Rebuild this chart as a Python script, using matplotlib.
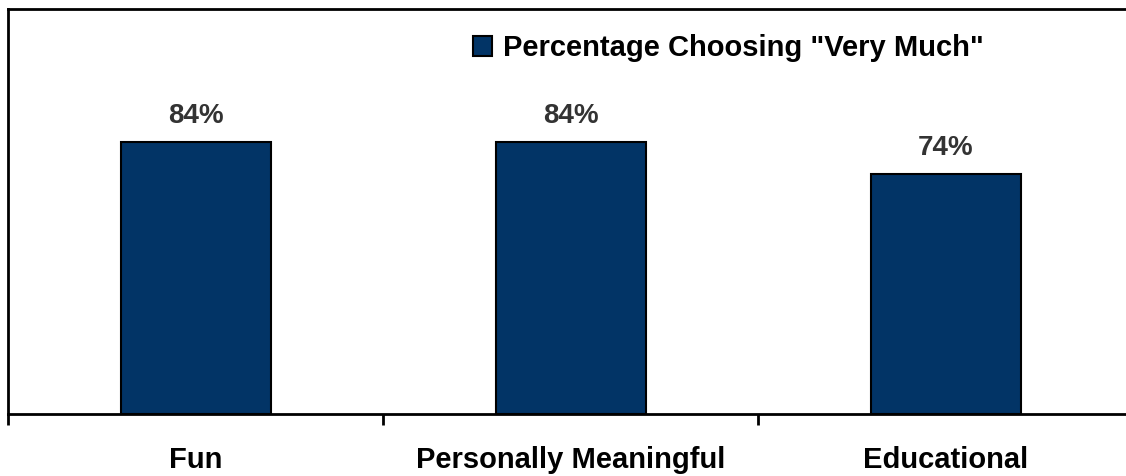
import numpy as np
import matplotlib
matplotlib.use('Agg')
from matplotlib import pyplot as plt
from matplotlib.ticker import FixedLocator

# survey results
categories = ['Fun', 'Personally Meaningful', 'Educational']
very_much = [84, 84, 74]
series_name = 'Percentage Choosing "Very Much"'

bar_color = '#023466'
plt.rcParams['font.family'] = ['Liberation Sans', 'DejaVu Sans']

W, H = 1126, 476
fig = plt.figure(figsize=(W / 100, H / 100), dpi=100)
# axes run a little past the right edge of the figure
ax = fig.add_axes([8 / W, 62 / H, 1125 / W, 405 / H])

x = np.arange(len(categories))
bars = ax.bar(x, very_much, width=0.4, color=bar_color, edgecolor='black',
              linewidth=1.5, label=series_name, zorder=2)

for b, v in zip(bars, very_much):
    ax.text(b.get_x() + b.get_width() / 2, v + 4, f'{v}%', ha='center',
            va='bottom', fontsize=20, fontweight='bold', color='#333333')

ax.set_xlim(-0.5, len(categories) - 0.5)
ax.set_ylim(0, 125)
ax.set_yticks([])

# category labels centred, tick marks on the category boundaries
ax.set_xticks(x)
ax.set_xticklabels(categories, fontsize=21, fontweight='bold')
ax.tick_params(axis='x', which='major', length=0, pad=23)
ax.xaxis.set_minor_locator(FixedLocator(np.arange(-0.5, len(categories), 1)))
ax.tick_params(axis='x', which='minor', length=8, width=2, direction='out')

for s in ['left', 'top', 'bottom', 'right']:
    ax.spines[s].set_linewidth(2)

ax.legend(loc='upper left', bbox_to_anchor=(473 / W, 1 - 34 / H),
          bbox_transform=fig.transFigure, frameon=False,
          prop={'size': 21, 'weight': 'bold'}, handlelength=0.66,
          handleheight=0.66, handletextpad=0.38, borderpad=0, borderaxespad=0)

fig.savefig('out.png', dpi=100)
